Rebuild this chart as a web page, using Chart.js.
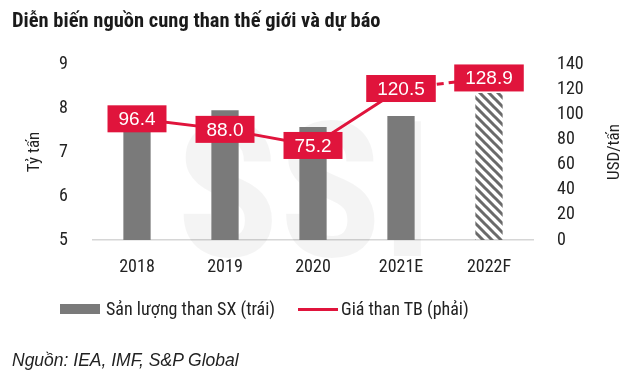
<!DOCTYPE html>
<html>
<head>
<meta charset="utf-8">
<script src="https://cdn.jsdelivr.net/npm/chart.js@4"></script>
<style>
  body { margin: 0; background: #fff; }
  #wrap { position: relative; width: 640px; height: 375px; }
  canvas { position: absolute; left: 0; top: 0; }
  #title { position: absolute; left: 12px; top: 8px; font: bold 20.5px 'Roboto Condensed', sans-serif; color: #1a1a1a; white-space: nowrap; }
  #source { position: absolute; left: 12px; top: 350px; font: italic 17.5px 'Liberation Sans', Arial, sans-serif; color: #222; white-space: nowrap; }
  .lg-box { position: absolute; }
  .lg-text { position: absolute; top: 298px; font: 18px 'Roboto Condensed', sans-serif; color: #222; line-height: 22px; white-space: nowrap; }
</style>
</head>
<body>
<div id="wrap">
  <canvas id="coalChart" width="640" height="375"></canvas>
  <div id="title">Diễn biến nguồn cung than thế giới và dự báo</div>
  <div id="legend"></div>
  <div id="source">Nguồn: IEA, IMF, S&amp;P Global</div>
</div>
<script>
const years = ['2018', '2019', '2020', '2021E', '2022F'];
const output = [7.8, 7.95, 7.57, 7.82, 8.34];      // tỷ tấn
const price = [96.4, 88.0, 75.2, 120.5, 128.9];    // USD/tấn
const leftTicks = [5, 6, 7, 8, 9];
const rightTicks = [0, 20, 40, 60, 80, 100, 120, 140];
const seriesNames = ['Sản lượng than SX (trái)', 'Giá than TB (phải)'];

const RED = '#e0143c';
const GREY = '#7a7a7a';
const cond = "'Roboto Condensed', sans-serif";
const regular = "'Liberation Sans', Arial, sans-serif";

// diagonal stripes for the forecast bar
function makeHatch() {
    const c = document.createElement('canvas');
    c.width = 9; c.height = 9;
    const g = c.getContext('2d');
    g.strokeStyle = '#6a6a6a';
    g.lineWidth = 3;
    g.beginPath();
    g.moveTo(-3, -3); g.lineTo(12, 12);
    g.moveTo(-3, 6); g.lineTo(3, 12);
    g.moveTo(6, -3); g.lineTo(12, 3);
    g.stroke();
    return document.getElementById('coalChart').getContext('2d').createPattern(c, 'repeat');
}

const barColors = output.map((v, i) => i === output.length - 1 ? makeHatch() : GREY);

// legend (html)
const legend = document.getElementById('legend');
legend.innerHTML =
    '<div class="lg-box" style="left:60px;top:304px;width:40px;height:10px;background:' + GREY + '"></div>' +
    '<div class="lg-text" style="left:106px">' + seriesNames[0] + '</div>' +
    '<div class="lg-box" style="left:298px;top:308px;width:40px;height:3px;background:' + RED + '"></div>' +
    '<div class="lg-text" style="left:341px">' + seriesNames[1] + '</div>';

const watermark = {
    id: 'watermark',
    beforeDatasetsDraw(chart) {
        const ctx = chart.ctx;
        ctx.save();
        ctx.fillStyle = 'rgba(0,0,0,0.045)';
        ctx.font = 'bold 190px ' + cond;
        ctx.textAlign = 'center';
        ctx.textBaseline = 'alphabetic';
        ctx.fillText('SSI', 305, 256);
        ctx.restore();
    }
};

// right axis title reads bottom-to-top in the original
const rightTitle = {
    id: 'rightTitle',
    afterDraw(chart) {
        const ctx = chart.ctx;
        const s = chart.scales.y1;
        ctx.save();
        ctx.translate(s.right - 25, (s.top + s.bottom) / 2);
        ctx.rotate(-Math.PI / 2);
        ctx.font = '17px ' + cond;
        ctx.fillStyle = '#222';
        ctx.textAlign = 'center';
        ctx.textBaseline = 'middle';
        ctx.fillText('USD/tấn', 0, 0);
        ctx.restore();
    }
};

const priceLabels = {
    id: 'priceLabels',
    afterDatasetsDraw(chart) {
        const ctx = chart.ctx;
        const meta = chart.getDatasetMeta(1);
        ctx.save();
        ctx.font = '19px ' + regular;
        ctx.textAlign = 'center';
        ctx.textBaseline = 'middle';
        meta.data.forEach((pt, i) => {
            const text = price[i].toFixed(1);
            const w = ctx.measureText(text).width + 22;
            const h = 27;
            ctx.fillStyle = RED;
            ctx.fillRect(pt.x - w / 2, pt.y - h / 2, w, h);
            ctx.fillStyle = '#fff';
            ctx.fillText(text, pt.x, pt.y + 1);
        });
        ctx.restore();
    }
};

new Chart(document.getElementById('coalChart'), {
    data: {
        labels: years,
        datasets: [{
            type: 'bar',
            label: seriesNames[0],
            data: output,
            backgroundColor: barColors,
            borderWidth: 0,
            barPercentage: 0.31,
            categoryPercentage: 1,
            yAxisID: 'y',
            order: 2
        }, {
            type: 'line',
            label: seriesNames[1],
            data: price,
            borderColor: RED,
            backgroundColor: RED,
            borderWidth: 3,
            pointRadius: 0,
            tension: 0,
            yAxisID: 'y1',
            order: 1,
            segment: {
                borderDash: c => c.p1DataIndex === price.length - 1 ? [7, 5] : undefined
            }
        }]
    },
    options: {
        responsive: false,
        animation: false,
        layout: { padding: { top: 64, bottom: 95, left: 0, right: 0 } },
        plugins: {
            legend: { display: false },
            tooltip: { enabled: false }
        },
        scales: {
            x: {
                grid: { display: false, drawTicks: false },
                border: { display: true, color: '#d6d6d6', width: 1.5 },
                ticks: { color: '#222', padding: 17, font: { family: cond, size: 18 } },
                afterFit: s => { s.height = 40; }
            },
            y: {
                position: 'left',
                min: 5, max: 9,
                afterBuildTicks: s => { s.ticks = leftTicks.map(v => ({ value: v })); },
                grid: { display: false, drawTicks: false },
                border: { display: false },
                ticks: { color: '#222', padding: 25, font: { family: cond, size: 18 } },
                title: { display: true, text: 'Tỷ tấn', color: '#222', padding: 25, font: { family: cond, size: 17 } },
                afterFit: s => { s.width = 93; }
            },
            y1: {
                position: 'right',
                min: 0, max: 140,
                afterBuildTicks: s => { s.ticks = rightTicks.map(v => ({ value: v })); },
                grid: { display: false, drawTicks: false },
                border: { display: false },
                ticks: { color: '#222', padding: 24, font: { family: cond, size: 18 } },
                title: { display: false },
                afterFit: s => { s.width = 107; }
            }
        }
    },
    plugins: [watermark, priceLabels, rightTitle]
});
</script>
</body>
</html>
